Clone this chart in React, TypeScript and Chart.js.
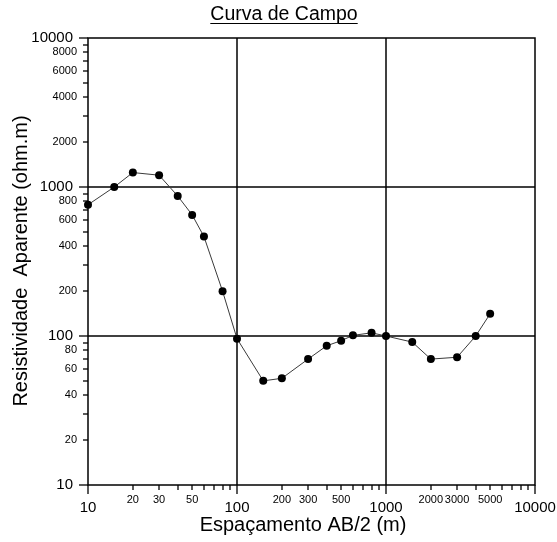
import React, { useEffect, useRef } from 'react';
import { Chart, registerables } from 'chart.js';

Chart.register(...registerables);

const spacingAB2 = [10, 15, 20, 30, 40, 50, 60, 80, 100, 150, 200, 300, 400, 500, 600, 800, 1000, 1500, 2000, 3000, 4000, 5000];
const resistivity = [760, 1000, 1250, 1200, 870, 650, 465, 200, 96, 50, 52, 70, 86, 93, 101, 105, 100, 91, 70, 72, 100, 141];

const decadeStarts = [10, 100, 1000];
const multipliers = [1, 2, 3, 4, 5, 6, 7, 8, 9];
const axisMax = 10000;

const xMajorLabels = [10, 100, 1000, 10000];
const xMinorLabels = [20, 30, 50, 200, 300, 500, 2000, 3000, 5000];
const yMajorLabels = [10, 100, 1000, 10000];
const yMinorLabels = [20, 40, 60, 80, 200, 400, 600, 800, 2000, 4000, 6000, 8000];
const gridValues = [100, 1000];

const titleText = 'Curva de Campo';
const xTitle = 'Espaçamento AB/2 (m)';
const yTitle = 'Resistividade  Aparente (ohm.m)';

const FONT = '"Liberation Sans", Arial, sans-serif';

const tickValues: number[] = [];
decadeStarts.forEach((d) => multipliers.forEach((m) => tickValues.push(d * m)));
tickValues.push(axisMax);

const isMajor = (v: number) => xMajorLabels.includes(v);

const drawPlugin = {
  id: 'logDecor',
  beforeDatasetsDraw(chart: any) {
    const { ctx, chartArea: a, scales } = chart;
    const xs = scales.x;
    const ys = scales.y;
    ctx.save();
    ctx.strokeStyle = '#000';
    ctx.lineWidth = 1.5;
    gridValues.forEach((v) => {
      const px = Math.round(xs.getPixelForValue(v));
      ctx.beginPath();
      ctx.moveTo(px, a.top);
      ctx.lineTo(px, a.bottom);
      ctx.stroke();
      const py = Math.round(ys.getPixelForValue(v));
      ctx.beginPath();
      ctx.moveTo(a.left, py);
      ctx.lineTo(a.right, py);
      ctx.stroke();
    });
    ctx.restore();
  },
  afterDraw(chart: any) {
    const { ctx, chartArea: a, scales } = chart;
    const xs = scales.x;
    const ys = scales.y;
    ctx.save();
    ctx.strokeStyle = '#000';
    ctx.lineWidth = 1.5;
    ctx.strokeRect(a.left, a.top, a.right - a.left, a.bottom - a.top);

    ctx.lineWidth = 1.3;
    tickValues.forEach((v) => {
      const len = isMajor(v) ? 9 : 5;
      const px = Math.round(xs.getPixelForValue(v));
      ctx.beginPath();
      ctx.moveTo(px, a.bottom);
      ctx.lineTo(px, a.bottom + len);
      ctx.stroke();
      const py = Math.round(ys.getPixelForValue(v));
      ctx.beginPath();
      ctx.moveTo(a.left, py);
      ctx.lineTo(a.left - len, py);
      ctx.stroke();
    });

    ctx.fillStyle = '#000';
    ctx.textBaseline = 'middle';
    ctx.textAlign = 'right';
    ctx.font = `15px ${FONT}`;
    yMajorLabels.forEach((v) => {
      ctx.fillText(String(v), a.left - 15, ys.getPixelForValue(v));
    });
    ctx.font = `11px ${FONT}`;
    yMinorLabels.forEach((v) => {
      ctx.fillText(String(v), a.left - 11, ys.getPixelForValue(v));
    });
    ctx.textAlign = 'center';
    ctx.font = `15px ${FONT}`;
    xMajorLabels.forEach((v) => {
      ctx.fillText(String(v), xs.getPixelForValue(v), a.bottom + 23);
    });
    ctx.font = `11px ${FONT}`;
    xMinorLabels.forEach((v) => {
      ctx.fillText(String(v), xs.getPixelForValue(v), a.bottom + 15);
    });

    // title
    const tx = 284;
    ctx.font = `19.5px ${FONT}`;
    ctx.fillText(titleText, tx, 15);
    const tw = ctx.measureText(titleText).width;
    ctx.lineWidth = 1.2;
    ctx.beginPath();
    ctx.moveTo(tx - tw / 2, 23.5);
    ctx.lineTo(tx + tw / 2, 23.5);
    ctx.stroke();

    // axis titles
    ctx.font = `20px ${FONT}`;
    ctx.fillText(xTitle, 303, 525);
    ctx.save();
    ctx.translate(21, 261);
    ctx.rotate(-Math.PI / 2);
    ctx.fillText(yTitle, 0, 0);
    ctx.restore();

    ctx.restore();
  },
};

export default function App() {
  const ref = useRef<HTMLCanvasElement | null>(null);
  useEffect(() => {
    if (!ref.current) return;
    const chart = new Chart(ref.current, {
      type: 'scatter',
      data: {
        datasets: [
          {
            data: spacingAB2.map((x, i) => ({ x, y: resistivity[i] })),
            showLine: true,
            borderColor: '#3a3a3a',
            borderWidth: 1,
            pointRadius: 4,
            pointBackgroundColor: '#000',
            pointBorderColor: '#000',
            pointBorderWidth: 0,
            clip: false as any,
          },
        ],
      },
      options: {
        animation: false,
        responsive: false,
        events: [],
        layout: { padding: { top: 38, right: 22, left: 0, bottom: 0 } },
        plugins: { legend: { display: false }, tooltip: { enabled: false }, title: { display: false } },
        scales: {
          x: {
            type: 'logarithmic',
            min: 10,
            max: axisMax,
            grid: { display: false },
            border: { display: false },
            ticks: { display: false },
            afterFit: (s: any) => { s.height = 57; },
          },
          y: {
            type: 'logarithmic',
            min: 10,
            max: axisMax,
            grid: { display: false },
            border: { display: false },
            ticks: { display: false },
            afterFit: (s: any) => { s.width = 88; },
          },
        },
      },
      plugins: [drawPlugin],
    });
    return () => chart.destroy();
  }, []);
  return (
    <div style={{ position: 'absolute', left: 0, top: 0, width: 557, height: 542, background: '#fff' }}>
      <canvas ref={ref} width={557} height={542} style={{ display: 'block' }} />
    </div>
  );
}
